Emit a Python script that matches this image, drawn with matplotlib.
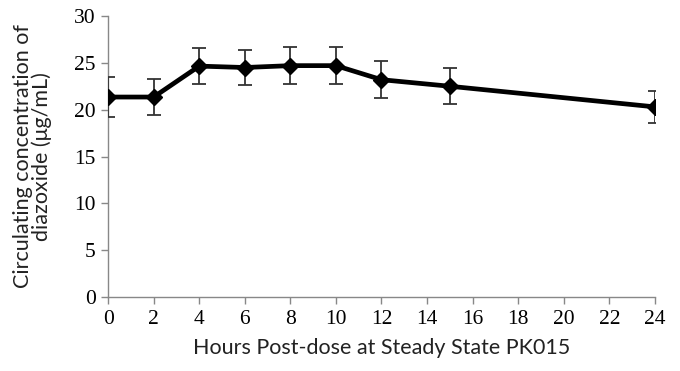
import matplotlib
matplotlib.use("Agg")
import matplotlib.pyplot as plt

hours = [0, 2, 4, 6, 8, 10, 12, 15, 24]
conc = [21.35, 21.35, 24.65, 24.5, 24.7, 24.7, 23.2, 22.5, 20.3]
err = [2.1, 1.9, 1.9, 1.9, 1.95, 1.95, 2.0, 1.9, 1.7]

xticks = list(range(0, 25, 2))
yticks = list(range(0, 31, 5))

fig = plt.figure(figsize=(6.8, 3.71), dpi=100)
ax = fig.add_axes([0.159, 0.199, 0.804, 0.758])

ax.errorbar(hours, conc, yerr=err, color="black", lw=3.4, marker="D", ms=8.5,
            ecolor="#333333", elinewidth=1.3, capsize=5, capthick=1.3, zorder=3)

ax.set_xlim(0, 24)
ax.set_ylim(0, 30)
ax.set_xticks(xticks)
ax.set_yticks(yticks)
for s in ["top", "right"]:
    ax.spines[s].set_visible(False)
for s in ["left", "bottom"]:
    ax.spines[s].set_color("#888888")
    ax.spines[s].set_linewidth(1.0)
ax.tick_params(direction="out", length=5, color="#888888", width=1.0,
               labelsize=15.5, pad=4)
for lab in ax.get_xticklabels() + ax.get_yticklabels():
    lab.set_fontfamily("Liberation Serif")

ax.set_xlabel("Hours Post-dose at Steady State PK015", fontfamily="Lato",
              fontsize=15.5, color="#222222", labelpad=7)
ax.set_ylabel("Circulating concentration of\ndiazoxide (\u03bcg/mL)", fontfamily="Lato",
              fontsize=15.5, color="#222222", labelpad=16, linespacing=0.88)

fig.savefig("out.png", dpi=100)
